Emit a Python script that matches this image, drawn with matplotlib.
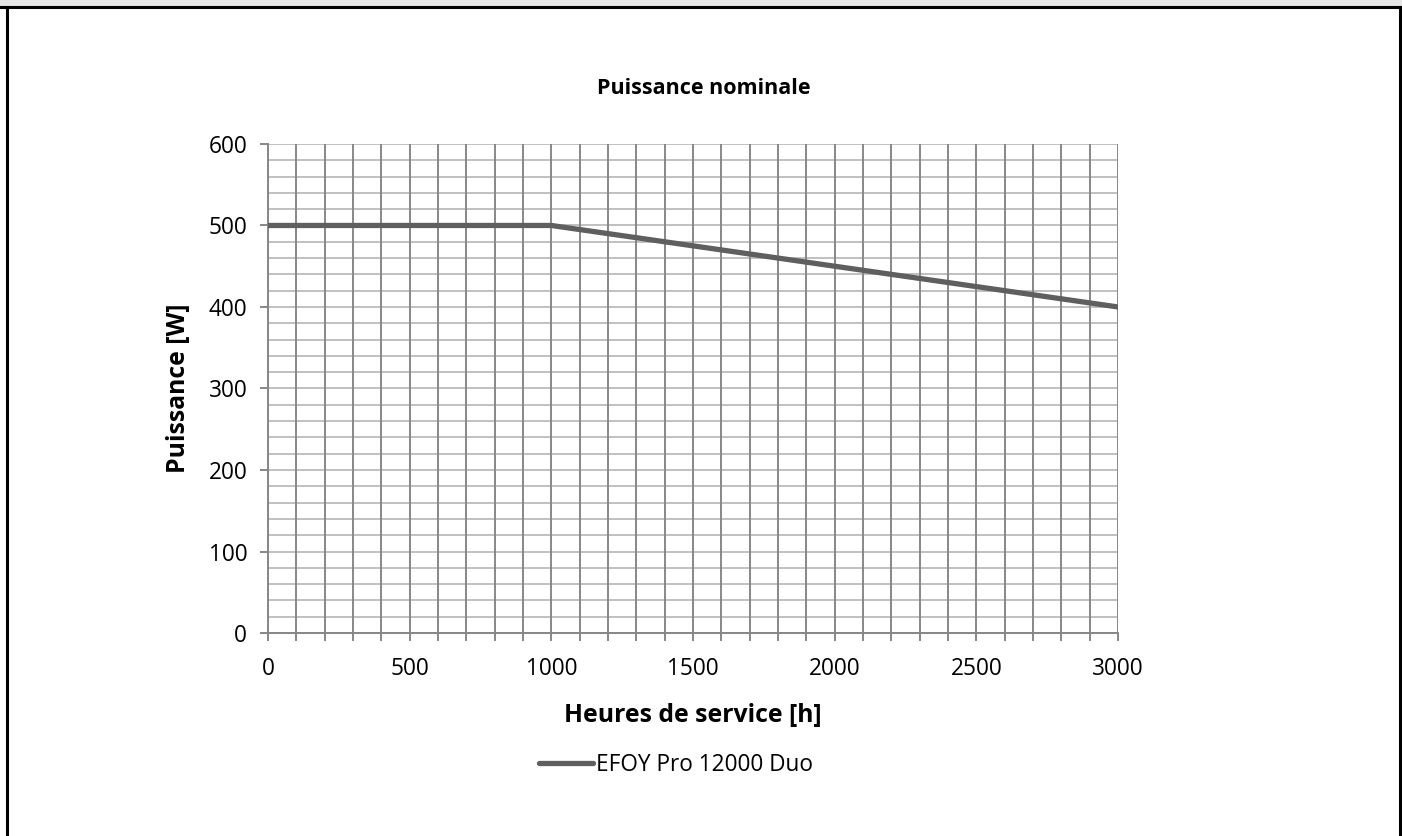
import numpy as np
import matplotlib.pyplot as plt
from matplotlib.lines import Line2D
from matplotlib.patches import Rectangle

plt.rcParams['font.family'] = ['Open Sans', 'DejaVu Sans']

# data
hours = [0, 1000, 3000]
power = [500, 500, 400]
series_name = "EFOY Pro 12000 Duo"

x_ticks = list(range(0, 3001, 100))
x_labels = [str(t) if t % 500 == 0 else "" for t in x_ticks]
y_ticks = [0, 100, 200, 300, 400, 500, 600]
y_minor = list(range(0, 601, 20))

fig = plt.figure(figsize=(14.02, 8.36), dpi=100)
ax = fig.add_axes([0.1912, 0.2428, 0.6063, 0.585])

# vertical grid (every 100 h) and horizontal grid (every 20 W)
for t in x_ticks:
    ax.axvline(t, color="#878787", lw=1.4, zorder=1)
for v in y_minor:
    ax.axhline(v, color="#c0c0c0", lw=1.4, zorder=0.9)

ax.plot(hours, power, color="#5f5f5f", lw=3.8, solid_capstyle="round",
        label=series_name, zorder=3)

ax.set_xlim(0, 3000)
ax.set_ylim(0, 600)
ax.set_xticks(x_ticks)
ax.set_xticklabels(x_labels)
ax.set_yticks(y_ticks)
ax.tick_params(axis="both", labelsize=16.3, colors="#878787", labelcolor="black",
               width=1.4, length=6)
ax.tick_params(axis="x", pad=11)
ax.tick_params(axis="y", pad=9)

for s in ["top", "right"]:
    ax.spines[s].set_visible(False)
for s in ["left", "bottom"]:
    ax.spines[s].set_color("#878787")
    ax.spines[s].set_linewidth(1.4)

fig.text(0.502, 0.8947, "Puissance nominale", ha="center", va="center",
         fontsize=15.5, fontweight="bold")
fig.text(0.494, 0.1447, "Heures de service [h]", ha="center", va="center",
         fontsize=17.8, fontweight="bold")
fig.text(0.127, 0.535, "Puissance [W]", ha="center", va="center",
         rotation=90, fontsize=17.8, fontweight="bold")

fig.legend(handles=[Line2D([0], [0], color="#5f5f5f", lw=3.8, solid_capstyle="round")],
           labels=[series_name], loc="center", bbox_to_anchor=(0.482, 0.085),
           frameon=False, fontsize=16.3, handlelength=2.4, handletextpad=0.1)

# outer frame
fig.patches.append(Rectangle((0, 1 - 7 / 836), 1, 7 / 836, transform=fig.transFigure,
                             facecolor="#e6e6e6", edgecolor="none", zorder=0))
fig.lines.append(Line2D([0, 1], [1 - 7 / 836] * 2, transform=fig.transFigure,
                        color="black", lw=2.2))
fig.lines.append(Line2D([7 / 1402] * 2, [0, 1 - 7 / 836], transform=fig.transFigure,
                        color="black", lw=2.2))
fig.lines.append(Line2D([1 - 2 / 1402] * 2, [0, 1 - 7 / 836], transform=fig.transFigure,
                        color="black", lw=2.2))

fig.savefig("out.png", dpi=100)
